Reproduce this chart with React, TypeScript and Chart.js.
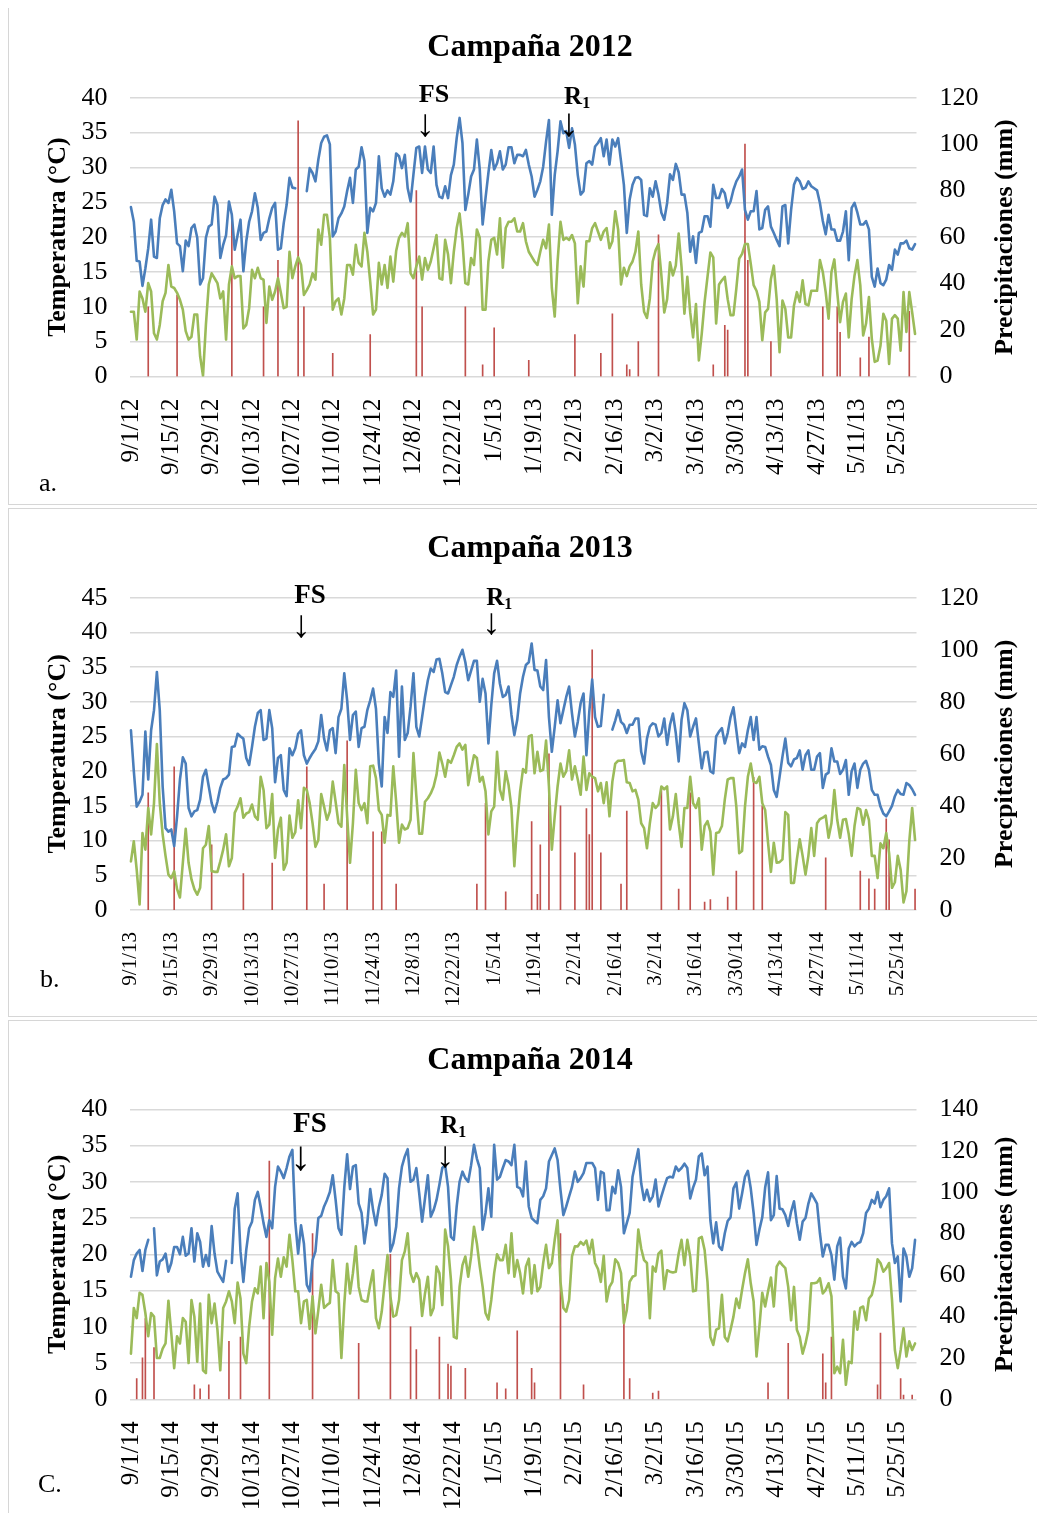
import React, { useEffect, useRef } from 'react';
import { Chart, registerables } from 'chart.js';

Chart.register(...registerables);

const SERIF = "'Liberation Serif', 'Times New Roman', Times, serif";
const BLUE = '#4A7EBB';
const GREEN = '#9BBB59';
const RED = '#C0504D';
const GRID = '#d9d9d9';

// ---------- categories (one per day, 1 Sep -> 31 May) ----------
const N_DAYS = 273;
const start2012 = [2012, 9, 1];
const start2013 = [2013, 9, 1];
const start2014 = [2014, 9, 1];
const TICK_EVERY = 14;

// ---------- Campaña 2012 ----------
const tmax2012 = [
  24.3, 22.2, 16.6, 16.5, 13.0, 15.5, 18.4, 22.5, 17.2, 17.0,
  22.7, 24.6, 25.4, 24.9, 26.8, 23.7, 19.1, 18.7, 15.1, 19.5,
  18.7, 21.3, 21.8, 19.9, 13.2, 14.1, 19.9, 21.5, 21.8, 25.8,
  24.6, 17.0, 18.9, 20.3, 25.1, 23.2, 18.2, 20.3, 22.5, 15.1,
  19.4, 22.2, 23.7, 26.3, 24.2, 19.6, 20.6, 20.8, 22.7, 24.2,
  24.9, 18.2, 18.4, 22.0, 24.6, 28.5, 27.1, 27.0, null, null,
  null, 26.6, 29.9, 29.2, 28.0, 31.1, 33.5, 34.4, 34.6, 33.3,
  20.1, 20.8, 22.7, 23.4, 24.4, 26.6, 28.5, 24.9, 29.7, 30.1,
  32.9, 30.9, 20.6, 24.2, 23.7, 24.9, 31.6, 27.0, 25.8, 26.7,
  26.1, 28.0, 32.0, 31.6, 29.9, 31.8, 27.0, 25.1, 29.0, 32.8,
  33.0, 29.2, 33.0, 29.7, 29.2, 33.0, 27.5, 25.8, 25.6, 27.3,
  25.6, 28.9, 30.4, 34.2, 37.1, 33.5, 23.9, 26.1, 28.7, 29.7,
  34.0, 29.7, 21.8, 25.6, 29.2, 32.5, 29.7, 30.6, 32.3, 29.7,
  30.4, 32.9, 32.9, 30.6, 31.8, 31.8, 31.6, 32.5, 30.4, 28.7,
  25.8, 26.8, 28.0, 30.1, 33.7, 36.8, 23.2, 28.9, 32.3, 36.6,
  34.9, 35.2, 32.8, 35.6, 33.3, 28.9, 26.1, 26.6, 30.6, 30.9,
  30.4, 33.0, 33.5, 34.2, 31.6, 34.0, 30.4, 34.0, 33.0, 34.2,
  30.9, 27.5, 20.6, 25.4, 27.5, 28.5, 28.6, 28.2, 23.2, 23.0,
  27.0, 25.8, 28.0, 26.1, 23.5, 22.5, 24.9, 29.0, 28.2, 30.5,
  29.3, 26.1, 26.1, 23.5, 17.9, 20.1, 16.3, 20.6, 20.8, 23.0,
  23.0, 21.5, 27.5, 25.6, 25.6, 26.9, 26.3, 24.2, 25.1, 26.8,
  28.0, 28.7, 29.7, 23.9, 22.5, 23.7, 23.7, 26.6, 21.1, 21.3,
  23.9, 24.4, 21.5, 20.6, 19.6, 18.7, 24.4, 24.6, 19.1, 23.9,
  27.5, 28.5, 28.0, 26.9, 27.1, 28.0, 27.3, 27.0, 26.7, 24.9,
  22.3, 20.4, 23.2, 21.1, 21.1, 19.5, 19.5, 20.8, 23.7, 16.7,
  24.2, 24.9, 23.5, 21.8, 21.8, 22.3, 21.1, 14.3, 12.9, 15.5,
  13.4, 13.1, 13.9, 16.0, 15.3, 18.2, 17.5, 19.1, 19.1, 19.5,
  18.4, 18.2, 19.0,
];
const tmin2012 = [
  9.3, 9.3, 5.3, 12.2, 11.2, 9.3, 13.4, 12.2, 6.2, 5.3,
  7.4, 10.8, 12.0, 16.0, 12.9, 12.7, 12.0, 11.0, 9.6, 6.5,
  5.3, 5.7, 8.9, 8.9, 2.9, 0.1, 7.4, 13.2, 14.8, 14.1,
  13.4, 11.2, 12.2, 5.3, 13.2, 15.8, 14.1, 14.4, 14.4, 6.9,
  7.4, 9.8, 15.3, 14.1, 15.6, 14.1, 13.9, 7.7, 12.9, 11.0,
  12.2, 14.1, 12.0, 9.8, 10.0, 17.9, 14.1, 15.8, 17.1, 16.0,
  11.7, 12.4, 13.2, 14.8, 13.9, 21.1, 18.9, 23.2, 23.2, 19.9,
  9.6, 10.8, 11.2, 8.9, 11.2, 16.0, 16.0, 14.6, 18.9, 16.3,
  15.8, 20.6, 17.9, 13.6, 8.9, 9.6, 16.3, 13.2, 16.0, 12.7,
  17.2, 13.6, 18.0, 19.9, 20.6, 20.1, 22.0, 14.8, 14.1, 15.8,
  17.2, 13.9, 17.0, 15.3, 16.5, 18.4, 20.3, 14.1, 13.9, 19.6,
  17.5, 13.4, 17.9, 21.3, 23.4, 19.4, 13.4, 13.2, 17.0, 16.0,
  21.1, 19.9, 9.6, 9.6, 16.5, 19.6, 19.9, 17.5, 22.7, 15.6,
  21.3, 22.2, 22.2, 22.7, 20.8, 20.8, 22.0, 19.4, 17.9, 17.2,
  16.5, 16.0, 17.9, 19.6, 18.4, 21.8, 12.7, 8.6, 16.5, 22.2,
  19.6, 19.9, 19.6, 20.3, 19.1, 10.5, 15.8, 12.9, 19.4, 19.4,
  21.3, 22.0, 20.8, 19.6, 20.8, 21.3, 18.4, 19.4, 23.7, 21.1,
  13.2, 15.6, 14.4, 15.8, 16.5, 17.9, 20.8, 13.2, 9.3, 8.4,
  11.2, 16.5, 18.1, 19.0, 14.5, 9.2, 11.1, 16.4, 14.5, 15.9,
  20.5, 15.7, 9.0, 14.3, 9.2, 5.6, 10.4, 2.3, 6.1, 10.7,
  14.3, 17.8, 17.1, 7.6, 13.2, 13.8, 14.3, 11.1, 8.8, 8.8,
  12.6, 16.9, 17.6, 19.0, 19.0, 16.2, 13.1, 12.3, 10.7, 5.2,
  9.2, 9.7, 14.0, 15.9, 11.1, 3.5, 10.9, 9.7, 5.6, 5.6,
  10.2, 12.1, 10.7, 13.8, 10.4, 10.2, 12.3, 12.3, 12.3, 16.7,
  15.0, 12.1, 8.3, 15.0, 16.8, 12.1, 7.8, 10.7, 11.9, 5.6,
  11.1, 14.5, 16.7, 13.1, 5.9, 7.6, 11.4, 5.4, 2.1, 2.3,
  4.4, 9.0, 8.0, 1.8, 8.3, 8.8, 8.3, 3.7, 12.1, 6.4,
  12.1, 9.2, 6.1,
];
const rainDay2012 = [6, 16, 35, 46, 51, 58, 60, 70, 83, 99, 101, 116, 122, 126, 138, 154, 163, 167, 172, 173, 176, 183, 202, 206, 207, 213, 214, 222, 240, 245, 246, 253, 256, 270];
const rainMm2012 = [30, 35, 70, 30, 50, 110, 30, 10, 18, 80, 30, 30, 5, 21, 7, 18, 10, 27, 5, 3, 15, 61, 5, 22, 20, 100, 50, 15, 30, 30, 19, 8, 17, 28];

// ---------- Campaña 2013 ----------
const tmax2013 = [
  25.9, 20.0, 14.9, 15.6, 16.6, 25.7, 18.8, 25.9, 28.8, 34.3,
  28.8, 17.8, 11.8, 11.3, 11.6, 9.2, 13.5, 18.8, 22.0, 21.1,
  14.7, 13.5, 14.2, 14.4, 15.9, 19.2, 20.2, 17.8, 15.4, 14.1,
  15.6, 17.6, 18.8, 19.0, 19.5, 23.5, 23.6, 25.4, 25.0, 24.7,
  21.9, 20.9, 23.5, 26.4, 28.4, 28.8, 24.5, 24.7, 28.8, 26.2,
  18.4, 21.9, 22.3, 17.3, 16.4, 23.3, 22.3, 23.3, 25.4, 25.9,
  22.3, 21.1, 21.9, 22.6, 23.2, 24.3, 28.1, 24.7, 23.0, 25.9,
  26.2, 22.6, 27.8, 29.0, 34.1, 30.2, 24.5, 28.1, 28.6, 23.5,
  26.2, 26.4, 28.8, 30.2, 31.9, 29.0, 21.1, 17.8, 27.8, 25.5,
  31.4, 30.7, 34.5, 22.1, 32.2, 24.5, 25.5, 29.3, 34.1, 26.4,
  25.0, 27.8, 30.7, 33.1, 34.8, 34.3, 36.1, 36.2, 34.1, 31.4,
  31.2, 32.4, 33.6, 35.3, 36.5, 37.5, 35.7, 33.1, 34.5, 35.9,
  35.9, 30.0, 33.3, 31.2, 24.0, 29.5, 34.1, 35.9, 32.6, 30.7,
  31.0, 32.2, 28.1, 25.2, 27.4, 31.2, 33.6, 35.3, 35.7, 38.4,
  34.6, 34.5, 32.2, 31.7, 36.0, 27.8, 22.8, 26.4, 30.2, 26.9,
  28.8, 30.7, 32.2, 28.3, 25.0, 27.1, 29.8, 31.2, 22.3, 28.6,
  33.2, 27.8, 26.4, 26.5, 31.0, null, null, 26.0, 27.3, 28.8,
  27.1, 26.7, 25.5, 26.7, 26.7, 27.6, 27.6, 22.8, 21.1, 24.7,
  26.4, 26.9, 26.7, 25.0, 25.5, 27.6, 23.8, 26.7, 28.3, 25.5,
  21.4, 27.4, 29.8, 28.8, 25.0, 26.4, 27.6, 24.0, 20.4, 22.7,
  22.8, 20.0, 19.7, 25.0, 25.7, 26.2, 24.0, 25.5, 27.8, 29.2,
  25.9, 22.6, 24.0, 23.5, 25.9, 27.8, 24.5, 27.8, 23.1, 23.6,
  23.5, 22.1, 20.9, 17.3, 16.3, 19.2, 22.1, 24.7, 21.2, 20.7,
  21.7, 21.9, 23.0, 20.2, 22.3, 23.0, 20.2, 20.2, 22.1, 22.6,
  17.6, 19.5, 19.8, 23.3, 21.4, 21.4, 19.6, 20.2, 21.6, 16.6,
  20.0, 21.1, 17.6, 20.2, 21.1, 21.5, 20.2, 17.3, 16.6, 16.6,
  14.9, 13.9, 13.5, 14.2, 15.0, 16.4, 17.3, 16.7, 16.6, 18.3,
  18.0, 17.4, 16.6,
];
const tmin2013 = [
  7.0, 9.9, 5.8, 0.8, 11.1, 8.7, 14.7, 10.9, 15.4, 23.9,
  15.4, 10.9, 7.8, 5.1, 4.6, 5.6, 3.0, 1.8, 6.8, 11.7,
  6.8, 4.4, 3.0, 2.2, 3.2, 8.9, 9.4, 12.1, 5.6, 5.5,
  5.5, 7.0, 8.7, 10.9, 6.3, 7.5, 14.0, 14.9, 16.1, 13.3,
  13.9, 14.1, 15.2, 13.5, 13.0, 19.2, 17.3, 11.8, 12.3, 16.7,
  7.5, 11.6, 13.3, 5.8, 6.8, 13.6, 10.4, 11.2, 15.8, 11.8,
  17.6, 17.3, 15.4, 12.5, 9.1, 10.1, 16.7, 14.9, 13.0, 14.2,
  18.5, 15.6, 12.5, 12.0, 20.9, 13.5, 6.8, 12.5, 20.2, 15.4,
  14.4, 15.4, 12.5, 20.7, 20.8, 19.0, 14.4, 13.7, 9.7, 13.7,
  13.6, 20.7, 15.6, 9.7, 12.3, 11.6, 11.8, 13.0, 22.6, 16.4,
  11.0, 11.0, 15.6, 16.1, 16.8, 17.8, 19.5, 22.7, 21.1, 19.2,
  21.6, 21.2, 22.3, 23.5, 24.0, 23.1, 23.8, 18.0, 20.2, 22.3,
  21.9, 18.5, 19.2, 17.1, 10.9, 14.2, 14.9, 22.8, 17.3, 15.9,
  20.0, 18.0, 14.7, 6.3, 12.5, 17.1, 20.3, 19.8, 25.0, 25.2,
  19.7, 22.8, 20.0, 20.2, 24.4, 17.8, 8.7, 13.5, 17.8, 21.1,
  19.2, 20.0, 23.0, 18.8, 20.7, 18.8, 16.6, 22.1, 17.3, 19.7,
  19.2, 19.0, 17.1, 18.3, 15.4, 18.4, 13.5, 18.5, 21.1, 21.5,
  21.5, 21.6, 18.4, 18.3, 17.1, 17.3, 15.9, 12.5, 11.8, 8.9,
  12.5, 15.4, 14.7, 15.2, 17.8, 17.4, 17.8, 11.6, 13.5, 16.7,
  12.5, 9.1, 14.7, 14.7, 19.2, 15.4, 14.7, 16.1, 8.7, 12.1,
  12.8, 11.3, 5.1, 11.1, 11.2, 12.1, 15.9, 18.8, 19.0, 19.0,
  14.9, 8.2, 8.5, 14.9, 19.2, 21.1, 18.5, 18.3, 19.2, 15.4,
  14.4, 9.7, 5.5, 9.7, 6.8, 6.9, 7.3, 14.1, 13.7, 3.9,
  3.9, 7.3, 10.2, 7.8, 5.1, 7.8, 11.8, 7.8, 12.5, 13.1,
  13.3, 13.6, 10.4, 12.5, 17.3, 13.0, 10.4, 13.0, 13.1, 10.9,
  7.8, 12.1, 14.7, 14.5, 12.3, 14.4, 13.0, 7.8, 7.8, 4.6,
  9.6, 8.9, 11.1, 8.2, 3.2, 4.0, 7.8, 5.8, 1.1, 2.7,
  9.9, 14.7, 10.1,
];
const rainDay2013 = [6, 15, 28, 39, 49, 61, 67, 75, 84, 87, 92, 120, 123, 130, 139, 141, 142, 145, 149, 154, 158, 159, 160, 163, 170, 172, 184, 190, 194, 199, 201, 207, 210, 216, 219, 241, 253, 256, 258, 262, 263, 272];
const rainMm2013 = [45, 55, 25, 14, 18, 55, 10, 65, 30, 30, 10, 10, 41, 7, 34, 6, 25, 60, 40, 22, 39, 29, 100, 22, 10, 38, 47, 8, 45, 3, 4, 5, 15, 51, 40, 20, 15, 12, 8, 35, 27, 8];

// ---------- Campaña 2014 ----------
const tmax2014 = [
  16.9, 19.2, 20.1, 20.6, 17.7, 20.6, 22.0, null, 23.6, 17.1,
  19.0, 19.3, 20.1, 17.6, 18.8, 21.0, 21.0, 20.0, 22.4, 19.8,
  20.1, 23.6, 19.0, 22.9, 21.7, 18.3, 19.9, 18.4, 23.9, 20.1,
  17.6, 16.9, 16.2, 19.1, null, 18.8, 26.3, 28.4, 20.4, 16.2,
  20.6, 23.6, 24.5, 27.5, 28.6, 26.6, 24.3, 22.4, 24.7, 23.6,
  29.3, 32.1, 31.4, 30.5, 31.9, 33.5, 34.4, 24.5, 20.1, 24.0,
  21.5, 15.8, 14.9, 19.2, 20.4, 25.0, 25.3, 26.6, 27.5, 28.6,
  30.9, 27.5, 23.6, 22.7, 29.2, 33.8, 29.0, 32.1, 32.3, 27.0,
  25.7, 21.5, 24.3, 29.0, 26.1, 24.0, 26.5, 28.2, 31.1, 30.5,
  20.4, 21.5, 23.8, 29.1, 32.1, 33.5, 34.5, 30.0, 30.3, 31.9,
  28.4, 24.5, 27.7, 30.9, 25.2, 26.1, 27.5, 29.6, 31.9, 32.3,
  29.3, 22.4, 22.0, 26.6, 30.0, 31.4, 30.5, 30.0, 32.3, 35.1,
  33.2, 31.9, 23.4, 25.7, 29.1, 25.2, 35.1, 30.3, 30.7, 31.9,
  33.0, 32.8, 32.3, 35.1, 29.3, 29.1, 28.0, 32.8, 26.6, 25.0,
  24.6, 24.3, 27.5, 28.0, 29.1, 32.8, 33.7, 34.6, 33.0, 28.9,
  25.4, 26.6, 28.0, 29.3, 31.4, 30.0, 30.5, 31.2, 32.6, 32.6,
  32.6, 31.9, 27.5, 31.4, 31.2, 26.1, 26.1, 29.3, 28.4, 31.6,
  29.3, 22.9, 24.3, 25.7, 30.7, 32.6, 34.5, 29.8, 27.5, 28.9,
  27.3, 28.0, 30.3, 26.6, 28.0, 29.3, 30.5, 30.7, 30.6, 32.1,
  31.5, 31.9, 32.5, 31.9, 27.7, 29.2, 30.3, 33.5, 33.9, 30.9,
  32.1, 24.7, 21.5, 24.4, 21.1, 20.6, 22.9, 24.6, 25.1, 29.1,
  29.9, 26.3, 28.4, 30.7, 31.5, 29.1, 25.7, 21.3, 23.4, 25.1,
  29.2, 31.3, 24.7, 25.4, 30.8, 26.3, 26.2, 25.4, 23.9, 25.9,
  27.3, 24.3, 22.0, 24.5, 25.0, 27.0, 28.4, 27.7, 27.0, 22.9,
  19.7, 21.3, 21.3, 19.9, 16.5, 21.1, 22.3, 16.9, 15.3, 20.8,
  21.7, 21.1, 21.5, 21.7, 22.9, 25.7, 26.3, 27.5, 27.0, 28.6,
  26.5, 27.5, 28.0, 29.1, 21.5, 18.8, 19.7, 13.5, 20.8, 19.7,
  16.9, 18.1, 22.0,
];
const tmin2014 = [
  6.3, 12.6, 11.2, 14.7, 14.4, 11.9, 8.7, 11.9, 11.4, 5.7,
  5.7, 7.0, 7.7, 13.6, 9.1, 4.3, 8.7, 7.7, 11.2, 10.7,
  5.0, 13.7, 11.4, 5.2, 13.2, 4.0, 3.6, 14.4, 10.5, 13.2,
  9.6, 4.0, 12.6, 13.5, 14.9, 13.5, 10.5, 16.1, 13.9, 6.3,
  5.0, 10.0, 13.5, 15.3, 14.6, 18.3, 11.2, 18.8, 16.2, 8.9,
  16.7, 19.4, 16.9, 19.6, 18.3, 22.7, 19.2, 14.9, 14.9, 10.5,
  13.5, 13.7, 9.7, 14.2, 9.1, 12.3, 15.8, 12.6, 13.0, 13.3,
  19.2, 14.9, 14.6, 5.7, 13.1, 18.7, 14.6, 17.4, 21.1, 15.5,
  13.7, 13.5, 13.5, 15.8, 17.8, 11.2, 9.8, 12.1, 16.0, 19.9,
  14.2, 11.4, 11.6, 13.7, 19.2, 20.4, 22.9, 17.4, 16.2, 17.4,
  16.5, 11.5, 14.6, 16.9, 11.6, 12.6, 18.3, 17.4, 13.0, 23.4,
  21.1, 16.5, 8.6, 8.4, 15.5, 18.5, 19.7, 16.9, 19.7, 23.8,
  21.5, 18.3, 15.5, 11.9, 11.0, 13.7, 17.4, 20.0, 19.2, 19.2,
  21.3, 17.4, 22.9, 16.9, 19.2, 17.4, 14.6, 18.3, 19.4, 14.6,
  18.5, 14.9, 15.5, 18.8, 21.3, 18.1, 18.8, 22.0, 24.7, 16.2,
  12.6, 12.1, 13.7, 19.7, 21.1, 21.1, 21.7, 21.3, 21.9, 20.1,
  22.0, 18.8, 18.0, 16.2, 19.8, 13.5, 15.5, 16.2, 19.3, 18.8,
  17.4, 10.5, 12.3, 16.2, 16.9, 17.1, 23.4, 20.8, 19.2, 18.8,
  11.2, 18.3, 17.6, 20.1, 20.5, 15.2, 17.8, 17.6, 17.5, 17.6,
  20.1, 22.0, 18.5, 22.0, 19.7, 14.9, 15.0, 22.2, 22.4, 20.6,
  16.2, 8.6, 7.5, 9.6, 9.8, 14.4, 8.6, 8.0, 9.6, 11.4,
  13.9, 12.6, 15.1, 17.4, 19.3, 16.0, 13.5, 5.9, 10.0, 14.7,
  12.8, 14.9, 16.8, 12.8, 18.3, 19.0, 18.5, 18.1, 15.5, 10.9,
  15.5, 9.6, 8.6, 6.3, 7.7, 9.6, 16.0, 16.0, 16.1, 16.7,
  14.6, 15.1, 16.0, 14.2, 3.6, 4.5, 3.6, 8.2, 2.0, 5.2,
  5.0, 12.1, 9.6, 12.6, 12.8, 10.9, 13.9, 14.4, 16.2, 19.3,
  18.8, 17.6, 18.1, 18.8, 13.7, 6.8, 4.3, 6.8, 9.8, 5.9,
  8.0, 6.8, 7.7,
];
const rainDay2014 = [2, 4, 5, 8, 22, 24, 27, 34, 38, 48, 63, 79, 90, 97, 99, 107, 110, 111, 116, 127, 130, 134, 139, 140, 149, 157, 171, 173, 181, 183, 221, 228, 240, 241, 243, 259, 260, 267, 268, 271];
const rainMm2014 = [10, 20, 39, 25, 7, 5, 7, 28, 30, 115, 80, 27, 70, 35, 24, 30, 17, 16, 15, 8, 5, 33, 15, 8, 80, 7, 46, 10, 3, 4, 8, 27, 22, 8, 30, 7, 32, 10, 2, 2];

// ---------- helpers ----------
function dayLabels(start: number[], n: number): string[] {
  const out: string[] = [];
  for (let i = 0; i < n; i++) {
    const dt = new Date(Date.UTC(start[0], start[1] - 1, start[2] + i));
    out.push(`${dt.getUTCMonth() + 1}/${dt.getUTCDate()}/${String(dt.getUTCFullYear()).slice(2)}`);
  }
  return out;
}
function rainSeries(days: number[], mm: number[], n: number): (number | null)[] {
  const a: (number | null)[] = new Array(n).fill(null);
  days.forEach((d, i) => { a[d] = mm[i]; });
  return a;
}

const CANVAS_W = 1035;
const AREA_LEFT = 120.5;
const AREA_RIGHT = 907.5;

type Mark = { idx: number; kind: 'FS' | 'R1'; base: number; aTop: number; aBottom: number; size: number };
type PanelCfg = {
  pageTop: number; height: number; title: string; labels: string[];
  tmax: (number | null)[]; tmin: (number | null)[]; rain: (number | null)[];
  tempMax: number; rainMax: number; rightTitle: string; letter: string; letterX: number; letterY: number;
  areaTop: number; areaBottom: number; xFont: number; marks: Mark[];
};

const PANELS: PanelCfg[] = [
  {
    pageTop: 7, height: 498, title: 'Campaña 2012', labels: dayLabels(start2012, N_DAYS),
    tmax: tmax2012, tmin: tmin2012, rain: rainSeries(rainDay2012, rainMm2012, N_DAYS),
    tempMax: 40, rainMax: 120, rightTitle: 'Precipitaciones (mm)', letter: 'a.', letterX: 30, letterY: 483,
    areaTop: 89.7, areaBottom: 368.5, xFont: 25,
    marks: [
      { idx: 102, kind: 'FS', base: 94, aTop: 106, aBottom: 129, size: 26 },
      { idx: 152, kind: 'R1', base: 96, aTop: 105, aBottom: 129, size: 25 },
    ],
  },
  {
    pageTop: 508, height: 509, title: 'Campaña 2013', labels: dayLabels(start2013, N_DAYS),
    tmax: tmax2013, tmin: tmin2013, rain: rainSeries(rainDay2013, rainMm2013, N_DAYS),
    tempMax: 45, rainMax: 120, rightTitle: 'Precpitaciones (mm)', letter: 'b.', letterX: 31, letterY: 478,
    areaTop: 88.7, areaBottom: 401, xFont: 21,
    marks: [
      { idx: 59, kind: 'FS', base: 94, aTop: 106, aBottom: 129, size: 27 },
      { idx: 125, kind: 'R1', base: 96, aTop: 104, aBottom: 126, size: 25 },
    ],
  },
  {
    pageTop: 1020, height: 502, title: 'Campaña 2014', labels: dayLabels(start2014, N_DAYS),
    tmax: tmax2014, tmin: tmin2014, rain: rainSeries(rainDay2014, rainMm2014, N_DAYS),
    tempMax: 40, rainMax: 140, rightTitle: 'Precipitaciones (mm)', letter: 'C.', letterX: 29, letterY: 471,
    areaTop: 88.3, areaBottom: 378.3, xFont: 25,
    marks: [
      { idx: 59, kind: 'FS', base: 111, aTop: 125, aBottom: 150, size: 29 },
      { idx: 109, kind: 'R1', base: 112, aTop: 125, aBottom: 147, size: 25 },
    ],
  },
];

function drawArrow(ctx: CanvasRenderingContext2D, x: number, top: number, bottom: number) {
  ctx.save();
  ctx.font = `100px ${SERIF}`;
  const m = ctx.measureText('↓');
  const h = (m.actualBoundingBoxAscent + m.actualBoundingBoxDescent) || 80;
  const size = (100 * (bottom - top)) / h;
  ctx.font = `${size}px ${SERIF}`;
  const m2 = ctx.measureText('↓');
  ctx.textAlign = 'center';
  ctx.textBaseline = 'alphabetic';
  ctx.fillText('↓', x, top + m2.actualBoundingBoxAscent);
  ctx.restore();
}

function makeOverlay(cfg: PanelCfg) {
  return {
    id: 'overlayText',
    afterDraw(chart: any) {
      const ctx: CanvasRenderingContext2D = chart.ctx;
      const area = chart.chartArea;
      const xs = chart.scales.x;
      const midY = (area.top + area.bottom) / 2;
      ctx.save();
      ctx.fillStyle = '#000';
      // title
      ctx.font = `bold 32px ${SERIF}`;
      ctx.textAlign = 'center';
      ctx.textBaseline = 'alphabetic';
      ctx.fillText(cfg.title, 521, 48);
      // axis titles
      ctx.font = `bold 26px ${SERIF}`;
      ctx.textBaseline = 'middle';
      ctx.save();
      ctx.translate(49, midY);
      ctx.rotate(-Math.PI / 2);
      ctx.fillText('Temperatura (°C)', 0, 0);
      ctx.restore();
      ctx.save();
      ctx.translate(996, midY);
      ctx.rotate(-Math.PI / 2);
      ctx.fillText(cfg.rightTitle, 0, 0);
      ctx.restore();
      // phenology marks
      ctx.textBaseline = 'alphabetic';
      for (const mk of cfg.marks) {
        const x = xs.getPixelForValue(mk.idx);
        if (mk.kind === 'FS') {
          ctx.font = `bold ${mk.size}px ${SERIF}`;
          ctx.textAlign = 'center';
          ctx.fillText('FS', x + 9, mk.base);
        } else {
          ctx.font = `bold ${mk.size}px ${SERIF}`;
          ctx.textAlign = 'left';
          const rx = x - 5;
          ctx.fillText('R', rx, mk.base);
          const w = ctx.measureText('R').width;
          ctx.font = `bold 16px ${SERIF}`;
          ctx.fillText('1', rx + w, mk.base + 4);
        }
        drawArrow(ctx, x, mk.aTop, mk.aBottom);
      }
      // panel letter
      ctx.font = `26px ${SERIF}`;
      ctx.textAlign = 'left';
      ctx.fillText(cfg.letter, cfg.letterX, cfg.letterY);
      ctx.restore();
    },
  };
}

function Panel({ cfg }: { cfg: PanelCfg }) {
  const ref = useRef<HTMLCanvasElement>(null);
  const H = cfg.height - 2;
  useEffect(() => {
    const canvas = ref.current;
    if (!canvas) return;
    const tickFont = { family: SERIF, size: 26 };
    const chart = new Chart(canvas, {
      type: 'bar',
      data: {
        labels: cfg.labels,
        datasets: [
          {
            type: 'line', label: 'Temperatura máxima', data: cfg.tmax, yAxisID: 'y',
            borderColor: BLUE, backgroundColor: BLUE, borderWidth: 2.6, pointRadius: 0,
            tension: 0, spanGaps: false, order: 1, borderJoinStyle: 'round', borderCapStyle: 'round',
          } as any,
          {
            type: 'line', label: 'Temperatura mínima', data: cfg.tmin, yAxisID: 'y',
            borderColor: GREEN, backgroundColor: GREEN, borderWidth: 2.6, pointRadius: 0,
            tension: 0, spanGaps: false, order: 2, borderJoinStyle: 'round', borderCapStyle: 'round',
          } as any,
          {
            type: 'bar', label: 'Precipitaciones', data: cfg.rain, yAxisID: 'y1',
            backgroundColor: RED, barThickness: 1, order: 3,
          } as any,
        ],
      },
      options: {
        responsive: false,
        animation: false,
        devicePixelRatio: 1,
        events: [],
        layout: { padding: { top: cfg.areaTop, left: 0, right: 0, bottom: 0 } },
        plugins: { legend: { display: false }, tooltip: { enabled: false }, title: { display: false } },
        scales: {
          x: {
            type: 'category', offset: true,
            grid: { display: false }, border: { display: false },
            ticks: {
              autoSkip: false, maxRotation: 90, minRotation: 90, padding: 14, color: '#000',
              font: { family: SERIF, size: cfg.xFont },
              callback: (_v: any, i: number) => (i % TICK_EVERY === 0 ? cfg.labels[i] : ''),
            },
            afterFit: (s: any) => { s.height = H - cfg.areaBottom; },
          },
          y: {
            type: 'linear', position: 'left', min: 0, max: cfg.tempMax,
            ticks: { stepSize: 5, padding: 22, color: '#000', font: tickFont },
            grid: { color: GRID, lineWidth: 1.5, drawTicks: false },
            border: { display: false },
            afterFit: (s: any) => { s.width = AREA_LEFT; },
          },
          y1: {
            type: 'linear', position: 'right', min: 0, max: cfg.rainMax,
            ticks: { stepSize: 20, padding: 23, color: '#000', font: tickFont },
            grid: { display: false, drawTicks: false },
            border: { display: false },
            afterFit: (s: any) => { s.width = CANVAS_W - AREA_RIGHT; },
          },
        },
      } as any,
      plugins: [makeOverlay(cfg) as any],
    });
    return () => chart.destroy();
  }, []);
  return (
    <div
      style={{
        position: 'absolute', left: 0, top: cfg.pageTop - 8, width: CANVAS_W + 2, height: cfg.height,
        border: '1px solid #d6d6d6', boxSizing: 'border-box', background: '#fff',
      }}
    >
      <canvas ref={ref} width={CANVAS_W} height={H} style={{ display: 'block', width: CANVAS_W, height: H }} />
    </div>
  );
}

export default function App() {
  useEffect(() => {
    document.documentElement.style.overflow = 'hidden';
    document.body.style.overflow = 'hidden';
  }, []);
  return (
    <div style={{ position: 'relative', width: CANVAS_W + 2, height: 1505 }}>
      {PANELS.map((p) => (
        <Panel key={p.title} cfg={p} />
      ))}
    </div>
  );
}
